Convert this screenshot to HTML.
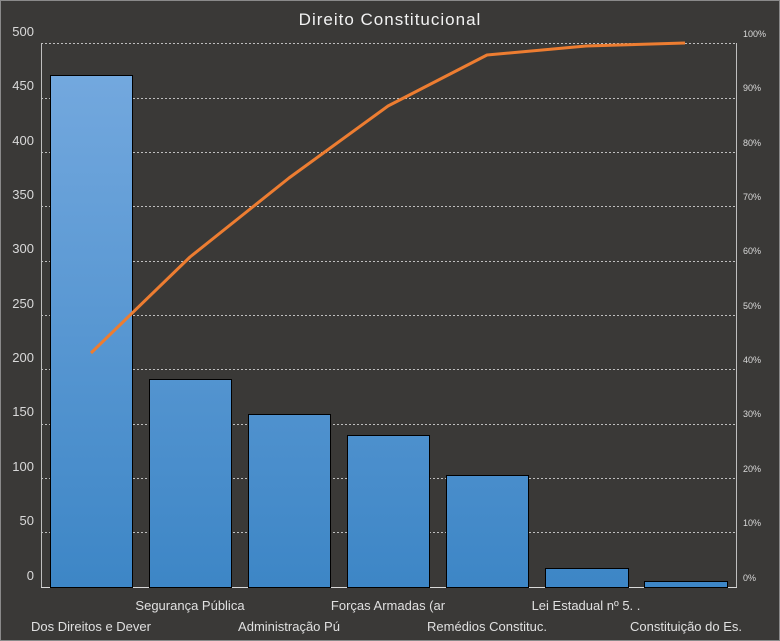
<!DOCTYPE html>
<html><head><style>
html,body{margin:0;padding:0;background:#3a3937;}
svg{display:block;font-family:"Liberation Sans","DejaVu Sans",sans-serif;}
</style></head><body>
<svg width="780" height="641" viewBox="0 0 780 641" xmlns="http://www.w3.org/2000/svg">
<defs>
<linearGradient id="g" gradientUnits="userSpaceOnUse" x1="0" y1="75" x2="0" y2="587">
<stop offset="0" stop-color="#73a8de"/><stop offset="1" stop-color="#3d86c6"/>
</linearGradient>
</defs>
<rect x="0.5" y="0.5" width="779" height="640" fill="#3a3937" stroke="#8a8a8a"/>
<text x="390" y="25" text-anchor="middle" fill="#f2f2f2" font-size="17" letter-spacing="1">Direito Constitucional</text>
<g stroke="#bfbfbf" stroke-width="1" stroke-dasharray="2,2">
<line x1="41" y1="43.5" x2="736" y2="43.5"/>
<line x1="41" y1="98.5" x2="736" y2="98.5"/>
<line x1="41" y1="152.5" x2="736" y2="152.5"/>
<line x1="41" y1="206.5" x2="736" y2="206.5"/>
<line x1="41" y1="261.5" x2="736" y2="261.5"/>
<line x1="41" y1="315.5" x2="736" y2="315.5"/>
<line x1="41" y1="369.5" x2="736" y2="369.5"/>
<line x1="41" y1="424.5" x2="736" y2="424.5"/>
<line x1="41" y1="478.5" x2="736" y2="478.5"/>
<line x1="41" y1="532.5" x2="736" y2="532.5"/>
</g>
<line x1="41.5" y1="43" x2="41.5" y2="587" stroke="#bfbfbf"/>
<line x1="736.5" y1="43" x2="736.5" y2="587" stroke="#bfbfbf"/>
<line x1="41" y1="587.5" x2="737" y2="587.5" stroke="#d9d9d9"/>
<g fill="#d9d9d9" font-size="13" text-anchor="end">
<text x="34" y="36">500</text><text x="34" y="90">450</text><text x="34" y="145">400</text>
<text x="34" y="199">350</text><text x="34" y="253">300</text><text x="34" y="308">250</text>
<text x="34" y="362">200</text><text x="34" y="416">150</text><text x="34" y="471">100</text>
<text x="34" y="525">50</text><text x="34" y="580">0</text>
</g>
<g fill="#d9d9d9" font-size="9">
<text x="743" y="37">100%</text><text x="743" y="91">90%</text><text x="743" y="146">80%</text>
<text x="743" y="200">70%</text><text x="743" y="254">60%</text><text x="743" y="309">50%</text>
<text x="743" y="363">40%</text><text x="743" y="417">30%</text><text x="743" y="472">20%</text>
<text x="743" y="526">10%</text><text x="743" y="581">0%</text>
</g>
<g fill="url(#g)" stroke="#000" stroke-width="1">
<rect x="50.5" y="75.5" width="82" height="512"/>
<rect x="149.5" y="379.5" width="82" height="208"/>
<rect x="248.5" y="414.5" width="82" height="173"/>
<rect x="347.5" y="435.5" width="82" height="152"/>
<rect x="446.5" y="475.5" width="82" height="112"/>
<rect x="545.5" y="568.5" width="83" height="19"/>
<rect x="644.5" y="581.5" width="83" height="6"/>
</g>
<polyline points="91,353 190,257 289,178 388,106 487,55 586,46 685,43" fill="none" stroke="#ed7d31" stroke-width="3" stroke-linejoin="round"/>
<g fill="#e0e0e0" font-size="13" text-anchor="middle">
<text x="190" y="610">Segurança Pública</text>
<text x="388" y="610">Forças Armadas (ar</text>
<text x="586" y="610">Lei Estadual nº 5. .</text>
<text x="91" y="631">Dos Direitos e Dever</text>
<text x="289" y="631">Administração Pú</text>
<text x="487" y="631">Remédios Constituc.</text>
<text x="686" y="631">Constituição do Es.</text>
</g>
</svg>
</body></html>
